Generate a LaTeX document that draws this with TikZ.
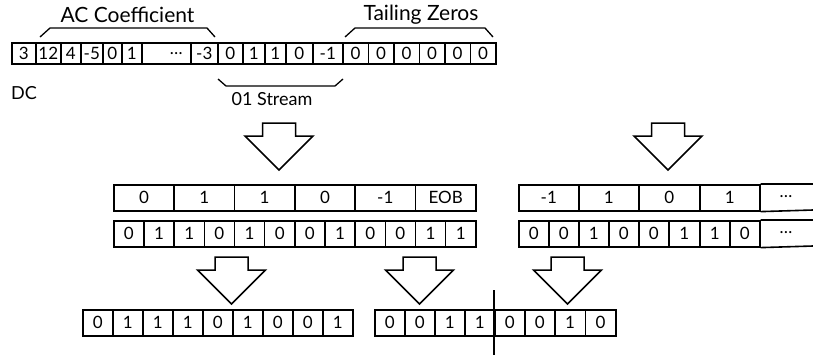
\documentclass[tikz,border=0pt]{standalone}
\usepackage{fontspec}
\setmainfont{Lato}
\newcommand\blockdown[2]{%
  \draw[blockarrow] (#1-16.5,#2) -- (#1+16.5,#2) -- (#1+16.5,#2+13) -- (#1+34,#2+13)
    -- (#1,#2+47) -- (#1-34,#2+13) -- (#1-16.5,#2+13) -- cycle;}
\newcommand\cellrow[4]{% prefix, top, height, list a/b/text
  \foreach \a/\b/\t [count=\i] in {#4} {%
    \pgfmathsetmacro\w{\b-\a}%
    \node[cellbox, anchor=north west, minimum width=\w pt, minimum height=#3 pt]
      (#1\i) at (\a,#2) {\t};}}
\begin{document}
\begin{tikzpicture}[x=1pt,y=-1pt,
  cellbox/.style={draw, line width=1.6pt, inner sep=0pt, font=\fontsize{17}{17}\selectfont},
  lbl/.style={font=\fontsize{21}{21}\selectfont, inner sep=0pt},
  sublbl/.style={font=\fontsize{18}{18}\selectfont, inner sep=0pt},
  bracket/.style={line width=1.3pt, line join=round},
  blockarrow/.style={draw, line width=1.5pt, line join=miter}]
\useasboundingbox (0,0) rectangle (813,357);
% top row
\cellrow{t}{42}{21}{11/35/3, 35/60/12, 60/80/4, 80/102/-5, 102/121/0, 121/141/1,
  141/190/{\hspace{20pt}\dots}, 190/217/-3, 217/242/0, 242/264/1, 264/285/1, 285/312/0, 312/342/-1,
  342/367.5/0, 367.5/393/0, 393/418.5/0, 418.5/444/0, 444/469.5/0, 469.5/495/0}
% braces
\draw[bracket] (40,37) -- (50,28) -- (207,28) -- (215,37);
\node[lbl] (ac) at (127.5,15) {AC Coefficient};
\draw[bracket] (345,37) -- (355,28) -- (485,28) -- (493,37);
\node[lbl] (tz) at (421,15) {Tailing Zeros};
\draw[bracket] (218,79) -- (226,86) -- (335,86) -- (343,79);
\node[sublbl] (st) at (272,99) {01 Stream};
\node[sublbl, anchor=west] (dc) at (11,93) {DC};
% middle arrows
\blockdown{279}{123}
\blockdown{668}{123}
% middle left rows
\cellrow{ml}{184}{26}{113/173.3/0, 173.3/233.7/1, 233.7/294/1, 294/354.3/0, 354.3/414.7/-1, 414.7/475/EOB}
\cellrow{mb}{220}{26}{113/143.2/0, 143.2/173.3/1, 173.3/203.5/1, 203.5/233.7/0, 233.7/263.8/1, 263.8/294/0,
  294/324.2/0, 324.2/354.3/1, 354.3/384.5/0, 384.5/414.7/0, 414.7/444.8/1, 444.8/475/1}
% middle right rows
\cellrow{rl}{184}{26}{518/578/-1, 578/638/1, 638/699/0, 699/759/1}
\cellrow{rb}{220}{26}{518/548/0, 548/578/0, 578/608/1, 608/638/0, 638/668/0, 668/699/1, 699/729/1, 729/759/0}
\draw[line width=1.6pt] (rl4.north east) -- (813,184) (rl4.south east) -- (813,210);
\draw[line width=1.6pt] (rb8.north east) -- (813,220) (rb8.south east) -- (813,246);
\node[cellbox, draw=none] (rldots) at (786,197) {\dots};
\node[cellbox, draw=none] (rbdots) at (786,233) {\dots};
% bottom arrows
\blockdown{231.5}{257}
\blockdown{419.5}{257}
\blockdown{567.5}{257}
% bottom rows
\cellrow{bl}{309}{26}{82/112/0, 112/142/1, 142/172/1, 172/202/1, 202/232/0, 232/262/1, 262/292/0, 292/322/0, 322/352/1}
\cellrow{br}{309}{26}{374/404/0, 404/434/0, 434/464/1, 464/494/1, 494/524/0, 524/554/0, 554/584.5/1, 584.5/615/0}
\coordinate (dv1) at (494,290);
\coordinate (dv2) at (494,355);
\draw[line width=1.5pt] (dv1) -- (dv2);
\end{tikzpicture}
\end{document}
